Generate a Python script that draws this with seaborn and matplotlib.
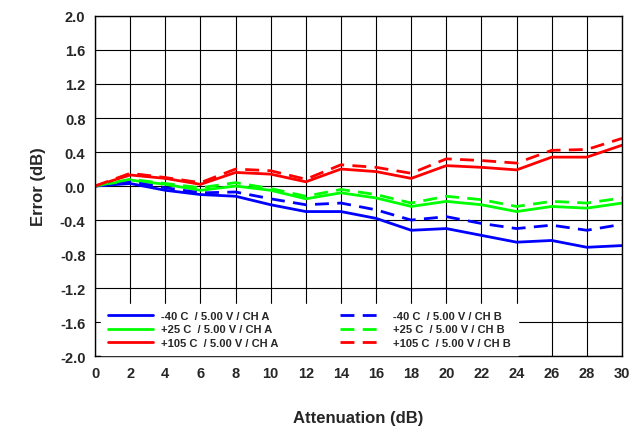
import matplotlib
matplotlib.use("Agg")
import matplotlib.pyplot as plt
import seaborn as sns
import pandas as pd

x = [0,2,4,6,8,10,12,14,16,18,20,22,24,26,28,30]
m40a = [0,0.03,-0.05,-0.1,-0.12,-0.22,-0.3,-0.3,-0.38,-0.52,-0.5,-0.58,-0.66,-0.64,-0.72,-0.7]
m40b = [0,0.05,-0.02,-0.08,-0.07,-0.15,-0.22,-0.2,-0.28,-0.4,-0.36,-0.44,-0.5,-0.46,-0.52,-0.45]
p25a = [0,0.07,0.02,-0.05,0.0,-0.05,-0.15,-0.08,-0.14,-0.24,-0.18,-0.22,-0.3,-0.24,-0.26,-0.2]
p25b = [0,0.08,0.03,-0.02,0.04,-0.03,-0.12,-0.04,-0.1,-0.2,-0.12,-0.16,-0.24,-0.18,-0.2,-0.14]
p105a = [0,0.13,0.09,0.02,0.16,0.14,0.05,0.2,0.17,0.09,0.24,0.22,0.19,0.34,0.34,0.48]
p105b = [0,0.15,0.1,0.04,0.2,0.18,0.08,0.25,0.22,0.15,0.32,0.3,0.27,0.42,0.43,0.56]

series = [("-40 C  / 5.00 V / CH A", m40a, "#0000ff", "-"),
          ("+25 C  / 5.00 V / CH A", p25a, "#00ff00", "-"),
          ("+105 C  / 5.00 V / CH A", p105a, "#ff0000", "-"),
          ("-40 C  / 5.00 V / CH B", m40b, "#0000ff", (0, (5, 3))),
          ("+25 C  / 5.00 V / CH B", p25b, "#00ff00", (0, (5, 3))),
          ("+105 C  / 5.00 V / CH B", p105b, "#ff0000", (0, (5, 3)))]

sns.set_style("white")
plt.rcParams['font.family'] = ['Liberation Sans', 'DejaVu Sans']
fig, ax = plt.subplots(figsize=(6.34, 4.35), dpi=100)
fig.subplots_adjust(left=0.15, right=0.981, top=0.961, bottom=0.179)
for lab, y, c, ls in series:
    df = pd.DataFrame({"x": x, "y": y})
    sns.lineplot(data=df, x="x", y="y", ax=ax, color=c, linestyle=ls, lw=2, label=lab)
ax.set_xlim(0, 30); ax.set_ylim(-2, 2)
ax.set_xticks(range(0, 31, 2))
yt = [round(-2 + 0.4*i, 1) for i in range(11)]
ax.set_yticks(yt)
ax.set_yticklabels([f"{v:.1f}" for v in yt])
ax.grid(True, color="black", lw=0.8)
for s in ax.spines.values():
    s.set_color("black"); s.set_linewidth(1)
ax.tick_params(labelsize=10.5)
for t in ax.get_xticklabels() + ax.get_yticklabels():
    t.set_fontweight("bold")
ax.set_xlabel("Attenuation (dB)", fontsize=12, fontweight="bold", labelpad=22)
ax.set_ylabel("Error (dB)", fontsize=12, fontweight="bold", labelpad=10)
leg = ax.legend(ncol=2, loc="lower left", bbox_to_anchor=(0.01, 0.0),
                frameon=True, fancybox=False, framealpha=1, edgecolor="white",
                prop={"size": 8, "weight": "bold"}, handlelength=4, borderaxespad=0.1,
                borderpad=0.6, labelspacing=0.35, columnspacing=5.5)
leg._legend_box.sep = 0
fig.canvas.draw()
plt.savefig("out.png", dpi=100)
